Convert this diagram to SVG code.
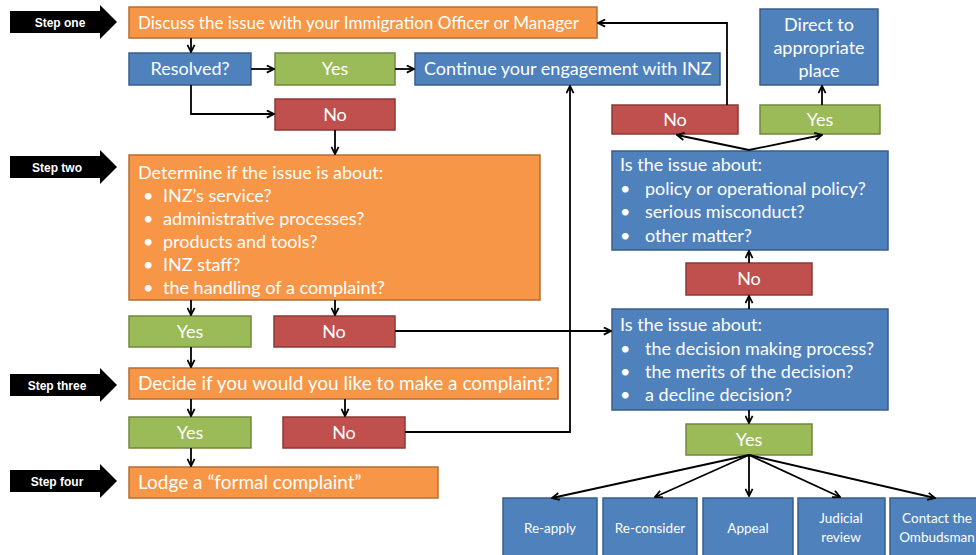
<svg xmlns="http://www.w3.org/2000/svg" width="976" height="555" viewBox="0 0 976 555">
<defs>
<marker id="ah" viewBox="0 0 10 10" refX="9" refY="5" markerWidth="5" markerHeight="5" orient="auto" markerUnits="strokeWidth">
<path d="M1,1 L9,5 L1,9" fill="none" stroke="#000" stroke-width="2"/>
</marker>
<style>
.or{fill:#F79646;stroke:#B66D31;stroke-width:1.5}
.bl{fill:#4F81BD;stroke:#385D8A;stroke-width:1.5}
.gr{fill:#9BBB59;stroke:#71893F;stroke-width:1.5}
.rd{fill:#C0504D;stroke:#8C3836;stroke-width:1.5}
text{font-family:"Lato","Liberation Sans",sans-serif;fill:#fff;font-size:18px}
.c{text-anchor:middle}
.s{font-size:13.5px}
.m{font-size:17px}
.l{font-size:19px}
.st{font-family:"Liberation Sans",sans-serif;font-weight:bold;font-size:12px;text-anchor:middle}
.cn path,.cn line,.cn polyline{fill:none;stroke:#000;stroke-width:1.8;marker-end:url(#ah)}
</style>
</defs>
<rect width="976" height="555" fill="#fff"/>

<g id="step1"><polygon points="10,11 100,11 100,5 117,22 100,39 100,33 10,33" fill="#000"/><text class="st" x="60" y="27">Step one</text></g>
<g id="step2"><polygon points="10,156 100,156 100,150 117,167 100,184 100,178 10,178" fill="#000"/><text class="st" x="57" y="172">Step two</text></g>
<g id="step3"><polygon points="10,374 100,374 100,368 117,385 100,402 100,396 10,396" fill="#000"/><text class="st" x="57" y="390">Step three</text></g>
<g id="step4"><polygon points="10,470 100,470 100,464 117,481 100,498 100,492 10,492" fill="#000"/><text class="st" x="57" y="486">Step four</text></g>

<g id="discuss"><rect class="or" x="129" y="7" width="468" height="31"/><text class="m" x="138" y="29">Discuss the issue with your Immigration Officer or Manager</text></g>
<g id="resolved"><rect class="bl" x="129" y="53" width="122" height="32"/><text class="c" x="190" y="75">Resolved?</text></g>
<g id="yes1"><rect class="gr" x="275" y="53" width="120" height="32"/><text class="c" x="335" y="75">Yes</text></g>
<g id="continue"><rect class="bl" x="415" y="53" width="305" height="32"/><text x="424" y="75">Continue your engagement with INZ</text></g>
<g id="no1"><rect class="rd" x="275" y="99" width="120" height="31"/><text class="c" x="335" y="121">No</text></g>

<g id="determine"><rect class="or" x="129" y="155" width="411" height="145"/>
<text x="138" y="179">Determine if the issue is about:</text>
<text x="143" y="202">•</text><text x="163" y="202">INZ’s service?</text>
<text x="143" y="225">•</text><text x="163" y="225">administrative processes?</text>
<text x="143" y="248">•</text><text x="163" y="248">products and tools?</text>
<text x="143" y="271">•</text><text x="163" y="271">INZ staff?</text>
<text x="143" y="294">•</text><text x="163" y="294">the handling of a complaint?</text>
</g>
<g id="yes2"><rect class="gr" x="129" y="316" width="122" height="31"/><text class="c" x="190" y="338">Yes</text></g>
<g id="no2"><rect class="rd" x="274" y="316" width="121" height="31"/><text class="c" x="334" y="338">No</text></g>
<g id="decide"><rect class="or" x="129" y="368" width="429" height="31"/><text class="l" x="138" y="390">Decide if you would you like to make a complaint?</text></g>
<g id="yes3"><rect class="gr" x="129" y="417" width="122" height="31"/><text class="c" x="190" y="439">Yes</text></g>
<g id="no3"><rect class="rd" x="283" y="417" width="122" height="31"/><text class="c" x="344" y="439">No</text></g>
<g id="lodge"><rect class="or" x="129" y="467" width="309" height="31"/><text class="l" x="138" y="489">Lodge a “formal complaint”</text></g>

<g id="direct"><rect class="bl" x="760" y="9" width="118" height="76"/><text class="c" x="819" y="31">Direct to</text><text class="c" x="819" y="54">appropriate</text><text class="c" x="819" y="77">place</text></g>
<g id="yes4"><rect class="gr" x="760" y="105" width="120" height="29"/><text class="c" x="820" y="126">Yes</text></g>
<g id="no4"><rect class="rd" x="612" y="105" width="126" height="29"/><text class="c" x="675" y="126">No</text></g>
<g id="policy"><rect class="bl" x="612" y="151" width="276" height="99"/>
<text x="620" y="171">Is the issue about:</text>
<text x="620" y="195">•</text><text x="645" y="195">policy or operational policy?</text>
<text x="620" y="218">•</text><text x="645" y="218">serious misconduct?</text>
<text x="620" y="242">•</text><text x="645" y="242">other matter?</text>
</g>
<g id="no5"><rect class="rd" x="686" y="263" width="126" height="32"/><text class="c" x="749" y="285">No</text></g>
<g id="decision"><rect class="bl" x="612" y="309" width="276" height="101"/>
<text x="620" y="331">Is the issue about:</text>
<text x="620" y="355">•</text><text x="645" y="355">the decision making process?</text>
<text x="620" y="378">•</text><text x="645" y="378">the merits of the decision?</text>
<text x="620" y="401">•</text><text x="645" y="401">a decline decision?</text>
</g>
<g id="yes5"><rect class="gr" x="686" y="424" width="126" height="31"/><text class="c" x="749" y="446">Yes</text></g>

<g id="reapply"><rect class="bl" x="503" y="498" width="94" height="64"/><text class="c s" x="550" y="533">Re-apply</text></g>
<g id="reconsider"><rect class="bl" x="603" y="498" width="94" height="64"/><text class="c s" x="650" y="533">Re-consider</text></g>
<g id="appeal"><rect class="bl" x="703" y="498" width="90" height="64"/><text class="c s" x="748" y="533">Appeal</text></g>
<g id="judicial"><rect class="bl" x="798" y="498" width="87" height="64"/><text class="c s" x="841" y="523">Judicial</text><text class="c s" x="841" y="542">review</text></g>
<g id="ombudsman"><rect class="bl" x="890" y="498" width="90" height="64"/><text class="c s" x="937" y="523">Contact the</text><text class="c s" x="937" y="542">Ombudsman</text></g>

<g id="connectors" class="cn">
<line x1="191" y1="38" x2="191" y2="52"/>
<line x1="251" y1="69" x2="274" y2="69"/>
<line x1="395" y1="69" x2="414" y2="69"/>
<polyline points="191,85 191,114 274,114"/>
<line x1="335" y1="130" x2="335" y2="154"/>
<polyline points="727,105 727,23 598,23"/>
<line x1="822" y1="105" x2="822" y2="86"/>
<line x1="749" y1="150" x2="677" y2="135"/>
<line x1="749" y1="150" x2="822" y2="135"/>
<line x1="749" y1="263" x2="749" y2="251"/>
<line x1="749" y1="309" x2="749" y2="296"/>
<line x1="395" y1="331" x2="611" y2="331"/>
<polyline points="405,432 570,432 570,86"/>
<line x1="191" y1="300" x2="191" y2="315"/>
<line x1="335" y1="300" x2="335" y2="315"/>
<line x1="191" y1="347" x2="191" y2="367"/>
<line x1="191" y1="399" x2="191" y2="416"/>
<line x1="345" y1="399" x2="345" y2="416"/>
<line x1="191" y1="448" x2="191" y2="466"/>
<line x1="749" y1="410" x2="749" y2="423"/>
<line x1="749" y1="455" x2="552" y2="498"/>
<line x1="749" y1="455" x2="655" y2="497"/>
<line x1="749" y1="455" x2="749" y2="496"/>
<line x1="749" y1="455" x2="840" y2="497"/>
<line x1="749" y1="455" x2="935" y2="498"/>
</g>
</svg>
